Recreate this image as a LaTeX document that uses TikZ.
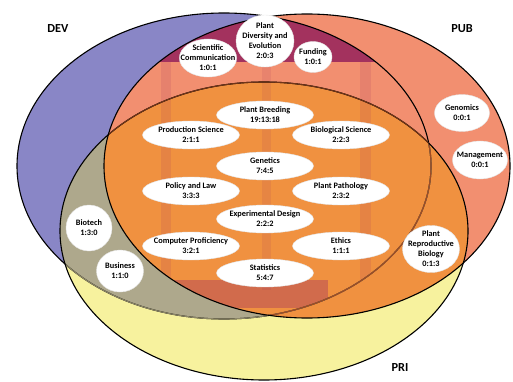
\documentclass[tikz,border=0pt]{standalone}
\usepackage{fontspec}
\setmainfont{Carlito}
\usepackage{tikz}
\usetikzlibrary{shapes,positioning}

\definecolor{devblue}{RGB}{137,134,198}
\definecolor{pubsalmon}{RGB}{242,143,112}
\definecolor{priyellow}{RGB}{247,242,158}
\definecolor{devpri}{RGB}{174,168,140}
\definecolor{pubpri}{RGB}{240,145,64}
\definecolor{devpub}{RGB}{163,50,94}
\definecolor{edgebrown}{RGB}{160,74,34}
\definecolor{edgeolive}{RGB}{140,134,104}

\newcommand{\devset}{(224,166) ellipse [x radius=207, y radius=153]}
\newcommand{\pubset}{(307,166) ellipse [x radius=203, y radius=152]}
\newcommand{\priset}{(264,231) ellipse [x radius=204, y radius=149]}

\begin{document}
\begin{tikzpicture}
  [
    x=1pt, y=-1pt,
    Oval/.style={ellipse, draw=gray!20, fill=white, inner sep=-7pt, align=center,
      font=\fontsize{8.3}{10}\selectfont\bfseries, text=black},
    Wide/.style={Oval, minimum width=97pt, minimum height=28pt},
    SetName/.style={font=\fontsize{12.3}{14}\selectfont\bfseries, text=black},
    Rim/.style={line width=1.1pt}
  ]
  \useasboundingbox (0,0) rectangle (513,382);
  % Sets
  \fill[devblue] \devset;
  \fill[priyellow] \priset;
  \begin{scope}
    \clip \priset;
    \fill[devpri] \devset;
  \end{scope}
  \fill[pubsalmon] \pubset;
  \begin{scope}
    \clip \pubset;
    \fill[pubpri] \priset;
    \clip \devset;
    \fill[devpub] (0,0) rectangle (513,62);
    \fill[devpub, opacity=0.14] (161,62) rectangle (171,290);
    \fill[devpub, opacity=0.12] (262,62) rectangle (271,290);
    \fill[devpub, opacity=0.14] (360,62) rectangle (371,290);
    \fill[devpub, opacity=0.4] (172,280) rectangle (328,308);
  \end{scope}
  % Outlines
  \draw[Rim] \devset;
  \begin{scope}
    \clip \priset;
    \draw[Rim, edgeolive] \devset;
    \clip \pubset;
    \draw[Rim, edgebrown] \devset;
  \end{scope}
  \draw[Rim] \priset;
  \begin{scope}
    \clip \devset;
    \clip \pubset;
    \draw[Rim, edgebrown!70!black] \priset;
  \end{scope}
  \draw[Rim] \pubset;
  % Nodes
  \node[Oval, minimum width=58pt, minimum height=52pt] (pde) at(265, 41) {Plant\\Diversity and\\Evolution\\2:0:3};
  \node[Oval, minimum width=57pt, minimum height=38pt] (sci) at(208, 58) {Scientific\\Communication\\1:0:1};
  \node[Oval, minimum width=38pt, minimum height=31pt] (fund) at(313, 57) {Funding\\1:0:1};
  \node[Wide] (breed) at(265, 115) {Plant Breeding\\19:13:18};
  \node[Wide] (prod) at(191, 135) {Production Science\\2:1:1};
  \node[Wide] (bio) at(341, 135) {Biological Science\\2:2:3};
  \node[Wide] (gen) at(265, 166) {Genetics\\7:4:5};
  \node[Wide] (pol) at(191, 191) {Policy and Law\\3:3:3};
  \node[Wide] (patho) at(341, 191) {Plant Pathology\\2:3:2};
  \node[Wide] (expd) at(265, 219) {Experimental Design\\2:2:2};
  \node[Wide] (comp) at(191, 246) {Computer Proficiency\\3:2:1};
  \node[Wide] (eth) at(341, 246) {Ethics\\1:1:1};
  \node[Wide] (stat) at(265, 273) {Statistics\\5:4:7};
  \node[Oval, minimum width=46pt, minimum height=46pt] (biot) at(89, 228) {Biotech\\1:3:0};
  \node[Oval, minimum width=47pt, minimum height=42pt] (bus) at(120, 271) {Business\\1:1:0};
  \node[Oval, minimum width=55pt, minimum height=37pt] (genom) at(462, 113) {Genomics\\0:0:1};
  \node[Oval, minimum width=55pt, minimum height=38pt] (manag) at(480, 160) {Management\\0:0:1};
  \node[Oval, minimum width=57pt, minimum height=47pt] (repro) at(431, 249) {Plant\\Reproductive\\Biology\\0:1:3};
  % Set names
  \node[SetName] (dev) at(58, 29) {DEV};
  \node[SetName] (pub) at(462, 29) {PUB};
  \node[SetName] (pri) at(400, 368) {PRI};
\end{tikzpicture}
\end{document}
